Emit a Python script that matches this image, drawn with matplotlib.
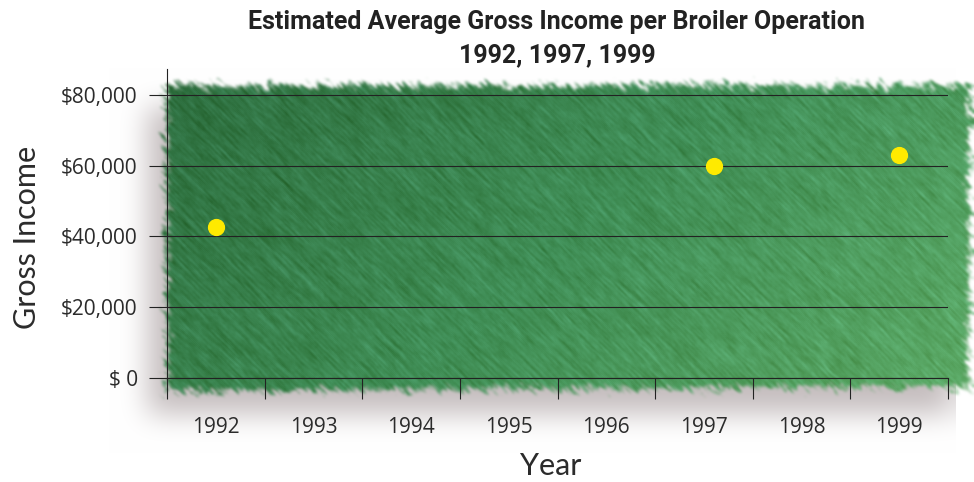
import numpy as np
import matplotlib
matplotlib.use("Agg")
import matplotlib.pyplot as plt
from matplotlib.ticker import FixedLocator

# data
year_labels = ["1992", "1993", "1994", "1995", "1996", "1997", "1998", "1999"]
year_pos = [1992.0, 1997.1, 1999.0]      # where the dots sit on the year axis
gross_income = [42700, 60000, 63000]
y_ticks = [0, 20000, 40000, 60000, 80000]
y_tick_labels = ["$ 0", "$20,000", "$40,000", "$60,000", "$80,000"]

W, H = 974, 482


def hash_noise(xx, yy, seed):
    v = np.sin(xx * 12.9898 + yy * 78.233 + seed * 37.719) * 43758.5453
    return v - np.floor(v)


def box_blur(a, r, times=3):
    for _ in range(times):
        for axis in (0, 1):
            c = np.cumsum(np.pad(a, [(r + 1, r) if i == axis else (0, 0) for i in range(2)], mode="edge"), axis=axis)
            if axis == 0:
                a = (c[2 * r + 1:] - c[:-2 * r - 1]) / (2 * r + 1)
            else:
                a = (c[:, 2 * r + 1:] - c[:, :-2 * r - 1]) / (2 * r + 1)
    return a


def streak(n, steps):
    # smear noise along the diagonal so it looks like brush strokes
    out = np.zeros_like(n)
    for k in range(steps):
        out += np.roll(np.roll(n, k, axis=0), k, axis=1)
    return out / steps


yy, xx = np.mgrid[0:H, 0:W].astype(float)

# textured green card
n1 = streak(box_blur(hash_noise(xx, yy, 1), 1, 1), 22)
n2 = streak(box_blur(hash_noise(xx, yy, 2), 1, 1), 8)
tex = (n1 - n1.mean()) / n1.std() * 0.6 + (n2 - n2.mean()) / n2.std() * 0.4

dark = np.array([45, 110, 62]) / 255
mid = np.array([64, 142, 86]) / 255
light = np.array([92, 170, 102]) / 255
t = np.clip((xx - 165) / 805 * 0.7 + (yy - 84) / 308 * 0.3, 0, 1)[..., None]
base = np.where(t < 0.5, dark + (mid - dark) * (t / 0.5), mid + (light - mid) * ((t - 0.5) / 0.5))
green = base + tex[..., None] * np.array([0.02, 0.028, 0.034])
green = np.clip(green, 0, 1)

left, right, top, bottom = 165, 970, 84, 392
d = np.minimum.reduce([xx - left, right - xx, yy - top, bottom - 5 * (xx - left) / 805 - yy])
rough = streak(box_blur(hash_noise(xx, yy, 3), 1, 1), 6)
rough = (rough - rough.mean()) / rough.std()
card_a = box_blur(np.clip((d + rough * 2.5 + 2) / 6, 0, 1), 1, 2)

# soft drop shadow, pushed down and to the left
rect = ((xx > left) & (xx < right) & (yy > top) & (yy < bottom)).astype(float)
sh = box_blur(rect, 13)
sh = np.roll(np.roll(sh, 22, axis=0), -18, axis=1) * 0.55
sh_col = np.array([150, 136, 138]) / 255

img = np.ones((H, W, 3))
img = img * (1 - sh[..., None]) + sh_col * sh[..., None]
img = img * (1 - card_a[..., None]) + green * card_a[..., None]

fig = plt.figure(figsize=(W / 100, H / 100), dpi=100)
fig.figimage(img, xo=0, yo=0, origin="upper", zorder=0)

ax = fig.add_axes([167 / W, 1 - 378 / H, (948 - 167) / W, (378 - 69) / H])
ax.set_zorder(2)
ax.patch.set_visible(False)
ax.set_xlim(1991.5, 1999.5)
ax.set_ylim(0, 87300)

ink = "#222222"
txt = "#2b2b2b"
ax.xaxis.set_major_locator(FixedLocator(np.arange(1991.5, 2000, 1.0)))
ax.xaxis.set_minor_locator(FixedLocator(np.arange(1992, 2000, 1.0)))
ax.set_xticklabels([], minor=False)
ax.set_xticklabels(year_labels, minor=True)
ax.tick_params(axis="x", which="major", direction="out", length=15, width=0.8, color=ink)
ax.tick_params(axis="x", which="minor", length=0, pad=28, labelsize=15, labelcolor=txt)

ax.set_yticks(y_ticks)
ax.set_yticklabels(y_tick_labels)
ax.tick_params(axis="y", direction="out", length=13, width=0.8, color=ink, pad=8,
               labelsize=15, labelcolor=txt)
for lab in ax.get_xticklabels(minor=True) + ax.get_yticklabels():
    lab.set_family("Open Sans")

ax.grid(axis="y", color=ink, linewidth=0.8)
ax.set_axisbelow(True)
for s in ["top", "right"]:
    ax.spines[s].set_visible(False)
for s in ["left", "bottom"]:
    ax.spines[s].set_color(ink)
    ax.spines[s].set_linewidth(0.8)

ax.scatter(year_pos, gross_income, s=130, color="#ffea00", zorder=5, clip_on=False)

fig.text(557 / W, 1 - 22 / H, "Estimated Average Gross Income per Broiler Operation",
         ha="center", va="center", fontsize=18, fontweight="bold",
         family="Roboto", color="#222222")
fig.text(557 / W, 1 - 55 / H, "1992, 1997, 1999",
         ha="center", va="center", fontsize=18, fontweight="bold",
         family="Roboto", color="#222222")
fig.text(27 / W, 1 - 237 / H, "Gross Income", rotation=90, ha="center", va="center",
         fontsize=22, family="Lato", color=txt)
fig.text(551 / W, 1 - 466 / H, "Year", ha="center", va="center",
         fontsize=22, family="Lato", color=txt)

fig.savefig("out.png", dpi=100)
